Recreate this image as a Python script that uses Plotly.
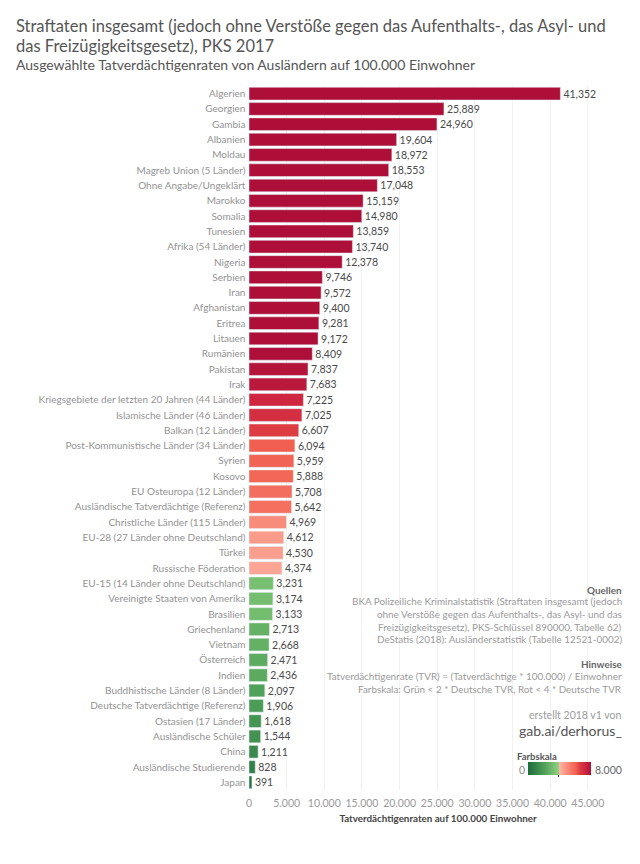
import plotly.graph_objects as go

countries = [
    "Algerien", "Georgien", "Gambia", "Albanien", "Moldau", "Magreb Union (5 Länder)",
    "Ohne Angabe/Ungeklärt", "Marokko", "Somalia", "Tunesien", "Afrika (54 Länder)", "Nigeria",
    "Serbien", "Iran", "Afghanistan", "Eritrea", "Litauen", "Rumänien", "Pakistan", "Irak",
    "Kriegsgebiete der letzten 20 Jahren (44 Länder)", "Islamische Länder (46 Länder)",
    "Balkan (12 Länder)", "Post-Kommunistische Länder (34 Länder)", "Syrien", "Kosovo",
    "EU Osteuropa (12 Länder)", "Ausländische Tatverdächtige (Referenz)",
    "Christliche Länder (115 Länder)", "EU-28 (27 Länder ohne Deutschland)", "Türkei",
    "Russische Föderation", "EU-15 (14 Länder ohne Deutschland)", "Vereinigte Staaten von Amerika",
    "Brasilien", "Griechenland", "Vietnam", "Österreich", "Indien", "Buddhistische Länder (8 Länder)",
    "Deutsche Tatverdächtige (Referenz)", "Ostasien (17 Länder)", "Ausländische Schüler", "China",
    "Ausländische Studierende", "Japan",
]
rates = [
    41352, 25889, 24960, 19604, 18972, 18553, 17048, 15159, 14980, 13859, 13740, 12378,
    9746, 9572, 9400, 9281, 9172, 8409, 7837, 7683, 7225, 7025, 6607, 6094, 5959, 5888,
    5708, 5642, 4969, 4612, 4530, 4374, 3231, 3174, 3133, 2713, 2668, 2471, 2436, 2097,
    1906, 1618, 1544, 1211, 828, 391,
]
x_ticks = [0, 5000, 10000, 15000, 20000, 25000, 30000, 35000, 40000, 45000]

color_scale = [
    [0.0, "#1f6b3e"], [0.25, "#4d9e57"], [0.489, "#8ed27f"],
    [0.489, "#ffb8a8"], [0.705, "#f4705f"], [0.76, "#f0604f"],
    [0.83, "#dc3a42"], [0.90, "#d02840"], [1.0, "#ae0f38"],
]

# the page body has an 8px margin, so the figure is 16px smaller than the window
# and the coordinates below are window pixels
BODY = 8
W, H = 640 - 2 * BODY, 864 - 2 * BODY
L, R, T, B = 249, 627, 86.4, 789.6


def px(x):
    return (x - L) / (R - L)


def py(y):
    return (B - y) / (B - T)


fig = go.Figure(go.Bar(
    x=rates, y=countries, orientation="h",
    marker=dict(
        color=rates, cmin=0, cmax=8000, colorscale=color_scale,
        colorbar=dict(
            orientation="h", x=px(528), xanchor="left", y=py(776.5), yanchor="bottom",
            len=63, lenmode="pixels", thickness=13, thicknessmode="pixels",
            tickvals=[3912], ticks="outside", ticklen=2, tickcolor="#333", showticklabels=False,
            outlinewidth=0, xpad=0, ypad=0,
        ),
    ),
    text=[f"{v:,}" for v in rates], textposition="outside", cliponaxis=False,
    textfont=dict(size=10.5, color="#4a4a4a"),
    hoverinfo="x+y",
))

notes = [
    ("<b>Quellen</b>", 590, "#666666", 9.9),
    ("BKA Polizeiliche Kriminalstatistik (Straftaten insgesamt (jedoch", 601, "#9a9a9a", 9.9),
    ("ohne Verstöße gegen das Aufenthalts-, das Asyl- und das", 614, "#9a9a9a", 9.9),
    ("Freizügigkeitsgesetz), PKS-Schlüssel 890000, Tabelle 62)", 627, "#9a9a9a", 9.9),
    ("DeStatis (2018): Ausländerstatistik (Tabelle 12521-0002)", 639, "#9a9a9a", 9.9),
    ("<b>Hinweise</b>", 664, "#666666", 9.9),
    ("Tatverdächtigenrate (TVR) = (Tatverdächtige * 100.000) / Einwohner", 676, "#9a9a9a", 9.9),
    ("Farbskala: Grün < 2 * Deutsche TVR, Rot < 4 * Deutsche TVR", 689, "#9a9a9a", 9.9),
    ("erstellt 2018 v1 von", 715, "#9a9a9a", 10.5),
    ("gab.ai/derhorus_", 730, "#555555", 14),
]
for text, y, color, size in notes:
    fig.add_annotation(text=text, xref="paper", yref="paper", x=px(624), y=py(y),
                       xanchor="right", yanchor="middle", showarrow=False,
                       font=dict(size=size, color=color))

fig.add_annotation(text="<b>Farbskala</b>", xref="paper", yref="paper", x=px(515), y=py(756),
                   xanchor="left", yanchor="middle", showarrow=False,
                   font=dict(size=9.5, color="#555555"))
fig.add_annotation(text="0", xref="paper", yref="paper", x=px(527), y=py(770),
                   xanchor="right", yanchor="middle", showarrow=False,
                   font=dict(size=10.5, color="#888888"))
fig.add_annotation(text="8.000", xref="paper", yref="paper", x=px(593), y=py(770),
                   xanchor="left", yanchor="middle", showarrow=False,
                   font=dict(size=10.5, color="#666666"))

headings = [
    ("Straftaten insgesamt (jedoch ohne Verstöße gegen das Aufenthalts-, das Asyl- und", 26, 16.5),
    ("das Freizügigkeitsgesetz), PKS 2017", 46, 16.5),
    ("Ausgewählte Tatverdächtigenraten von Ausländern auf 100.000 Einwohner", 64.5, 14),
]
for text, y, size in headings:
    fig.add_annotation(text=text, xref="paper", yref="paper", x=px(14), y=py(y),
                       xanchor="left", yanchor="middle", showarrow=False,
                       font=dict(size=size, color="#555555"))

fig.update_layout(
    width=W, height=H, autosize=False,
    margin=dict(l=L - BODY, r=W + BODY - R, t=T - BODY, b=H + BODY - B, pad=0),
    paper_bgcolor="white", plot_bgcolor="white",
    font=dict(family="Lato, 'Open Sans', sans-serif"),
    separators=",.", bargap=0.17, showlegend=False,
)
fig.update_xaxes(
    range=[0, 50200], tickvals=x_ticks, tickformat=",d", side="bottom",
    tickfont=dict(size=10.5, color="#9a9a9a"), ticks="outside", ticklen=3, tickcolor="white",
    gridcolor="#f1f1f1", zeroline=False, showline=False,
    title=dict(text="<b>Tatverdächtigenraten auf 100.000 Einwohner</b>", standoff=7,
               font=dict(size=9.8, color="#444444")),
)
fig.update_yaxes(
    autorange="reversed", tickmode="linear", dtick=1, ticks="", ticksuffix=" ",
    tickfont=dict(size=10, color="#939393"), showgrid=False, zeroline=False,
    showline=False,
)

fig.write_html("out.html")
